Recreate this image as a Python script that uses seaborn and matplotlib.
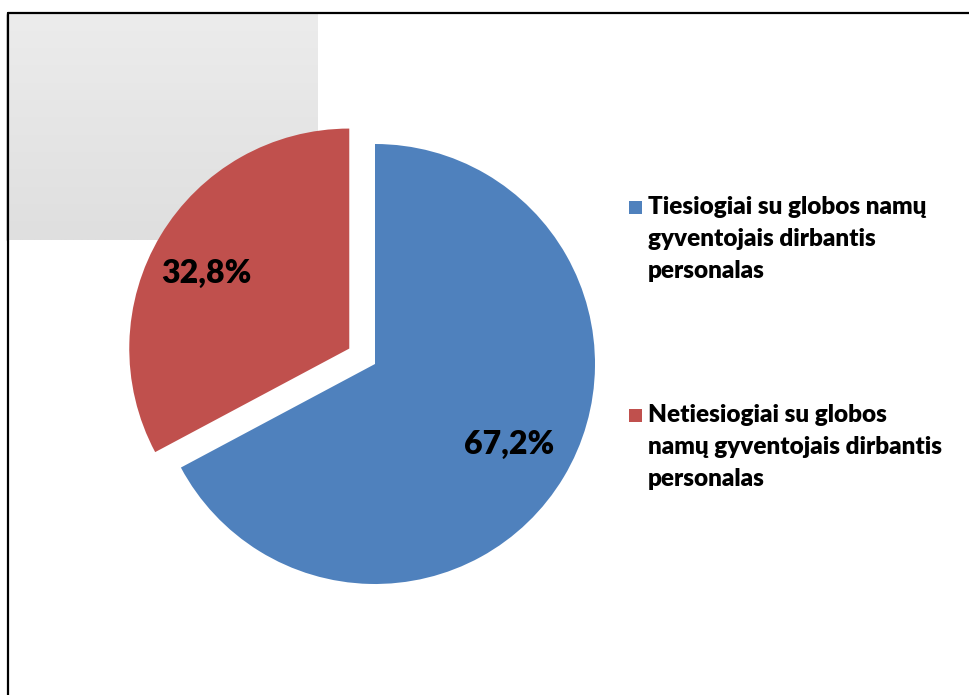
import numpy as np
import seaborn as sns
import matplotlib
import matplotlib.pyplot as plt
from matplotlib.patches import Rectangle
from matplotlib.lines import Line2D

matplotlib.use('Agg')

# Data
labels = [
    "Tiesiogiai su globos namų\ngyventojais dirbantis\npersonalas",
    "Netiesiogiai su globos\nnamų gyventojais dirbantis\npersonalas",
]
values = [67.2, 32.8]
colors = ["#4F81BD", "#C0504D"]

sns.set_theme(style="white")
plt.rcParams['font.family'] = ['Lato', 'DejaVu Sans']

W, H = 969, 695
fig = plt.figure(figsize=(W / 100, H / 100), dpi=100)
fig.patch.set_facecolor("white")

# grey gradient box behind the pie (top-left)
ax_bg = fig.add_axes([8 / W, 1 - 240 / H, 310 / W, 227 / H], zorder=0)
grad = np.linspace(0, 1, 100).reshape(-1, 1)
cmap = matplotlib.colors.LinearSegmentedColormap.from_list("g", ["#ececec", "#dfdfdf"])
ax_bg.imshow(grad, aspect="auto", cmap=cmap, extent=[0, 1, 0, 1], origin="upper")
ax_bg.set_axis_off()

# main axes in pixel units
ax = fig.add_axes([0, 0, 1, 1], zorder=1)
ax.patch.set_alpha(0)
wedges, texts, autotexts = ax.pie(
    values,
    colors=colors,
    startangle=90,
    counterclock=False,
    explode=[0, 30],
    radius=220,
    center=(375, H - 364),
    autopct=lambda p: f"{p:.1f}%".replace(".", ","),
    pctdistance=0.71,
    wedgeprops=dict(linewidth=0),
    textprops=dict(fontsize=23, fontweight="heavy", color="black"),
)
# small nudge of the red label further out, as in the original
x, y = autotexts[1].get_position()
autotexts[1].set_position((x - 9, y - 5))

ax.set_xlim(0, W)
ax.set_ylim(0, H)
ax.set_aspect("equal")
ax.set_axis_off()

# legend drawn by hand so the square sits on the first line
for i, (lab, col) in enumerate(zip(labels, colors)):
    ytop = 196 + i * 208
    fig.patches.append(Rectangle((629 / W, 1 - (ytop + 18) / H), 13 / W, 13 / H,
                                 transform=fig.transFigure, facecolor=col,
                                 edgecolor="none", zorder=3))
    fig.text(648 / W, 1 - ytop / H, lab, fontsize=17.5, fontweight="heavy",
             va="top", ha="left", linespacing=1.55, color="black")

# chart frame (top and left edges visible)
fig.add_artist(Line2D([8 / W, 1], [1 - 13 / H, 1 - 13 / H], color="black", lw=1.6,
                      transform=fig.transFigure, zorder=5))
fig.add_artist(Line2D([8 / W, 8 / W], [0, 1 - 13 / H], color="black", lw=1.6,
                      transform=fig.transFigure, zorder=5))
fig.add_artist(Line2D([6.5 / W, 6.5 / W], [1 - 240 / H, 1 - 15 / H], color="#d0d0d0", lw=1.2,
                      transform=fig.transFigure, zorder=4))

fig.savefig("out.png", dpi=100)
